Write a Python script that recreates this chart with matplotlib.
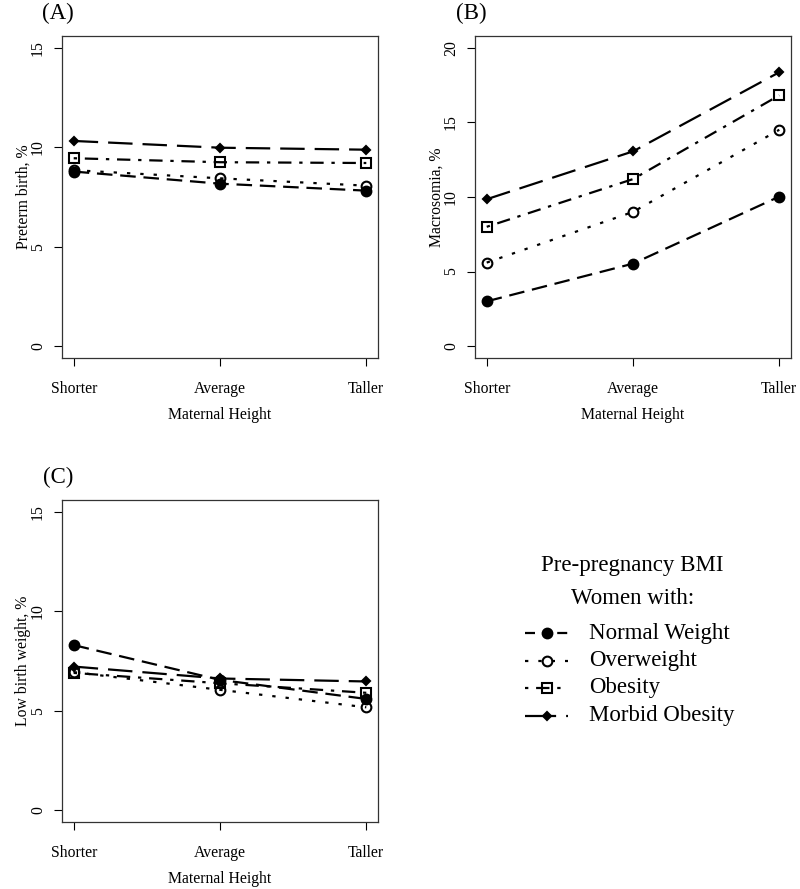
import matplotlib
matplotlib.use("Agg")
import matplotlib.pyplot as plt

plt.rcParams['font.family'] = ['Liberation Serif', 'DejaVu Serif']

heights = ['Shorter', 'Average', 'Taller']
groups = ['Normal Weight', 'Overweight', 'Obesity', 'Morbid Obesity']

# (A) preterm birth, %
preterm_normal = [8.78, 8.17, 7.82]
preterm_over = [8.85, 8.44, 8.07]
preterm_obese = [9.45, 9.25, 9.21]
preterm_morbid = [10.32, 9.98, 9.88]

# (B) macrosomia, %
macro_normal = [3.0, 5.53, 10.03]
macro_over = [5.6, 9.0, 14.51]
macro_obese = [8.0, 11.2, 16.82]
macro_morbid = [9.85, 13.06, 18.37]

# (C) low birth weight, %
lbw_normal = [8.30, 6.55, 5.59]
lbw_over = [6.94, 6.05, 5.17]
lbw_obese = [6.90, 6.38, 5.90]
lbw_morbid = [7.22, 6.62, 6.47]

# line / marker style per group (R lty 2,3,4,5 and pch 19,1,0,18)
styles = [
    dict(dashes=(7, 3.5), marker='o', ms=7, mfc='black'),
    dict(dashes=(1.5, 4.5), marker='o', ms=7, mfc='none'),
    dict(dashes=(1.5, 3.5, 6, 3.5), marker='s', ms=7, mfc='none'),
    dict(dashes=(11, 4.5), marker='D', ms=4.5, mfc='black'),
]
# dash patterns for the legend samples
legend_dashes = [(4.5, 10), (1.5, 4.5), (1.5, 3.5, 6, 3.5), (14, 4.5)]

fig = plt.figure(figsize=(8, 8.89), dpi=100)
W, H = 800, 889


def make_ax(left, top, ymax, ylabel, series, tag):
    ax = fig.add_axes([left / W, 1 - (top + 322) / H, 316 / W, 322 / H])
    x = range(len(heights))
    for vals, st in zip(series, styles):
        ax.plot(x, vals, color='black', lw=1.6, dashes=st['dashes'],
                marker=st['marker'], ms=st['ms'], mfc=st['mfc'],
                mec='black', mew=1.5)
    pad = 0.04
    ax.set_xlim(-0.08, 2 + 0.08)
    ax.set_ylim(-pad * ymax, ymax * (1 + pad))
    ax.set_xticks(list(x))
    ax.set_xticklabels(heights)
    ax.set_yticks(range(0, ymax + 1, 5))
    ax.tick_params(axis='x', length=5.5, width=0.8, pad=11, labelsize=11.3)
    ax.tick_params(axis='y', length=5.5, width=0.8, pad=6, labelsize=11.3)
    plt.setp(ax.get_yticklabels(), rotation=90, va='center')
    for s in ax.spines.values():
        s.set_linewidth(0.9)
        s.set_color('#333333')
    ax.set_xlabel('Maternal Height', fontsize=11.3)
    ax.xaxis.set_label_coords(0.5, -0.152)
    ax.set_ylabel(ylabel, fontsize=11.3)
    ax.yaxis.set_label_coords(-0.097, 0.5)
    fig.text((left - 4) / W, 1 - (top - 23) / H, tag, ha='center',
             va='center', fontsize=16.5)
    return ax


make_ax(62, 36, 15, 'Preterm birth, %',
        [preterm_normal, preterm_over, preterm_obese, preterm_morbid], '(A)')
make_ax(475, 36, 20, 'Macrosomia, %',
        [macro_normal, macro_over, macro_obese, macro_morbid], '(B)')
make_ax(62, 500, 15, 'Low birth weight, %',
        [lbw_normal, lbw_over, lbw_obese, lbw_morbid], '(C)')

# legend, drawn on an overlay in pixel coordinates
lg = fig.add_axes([0, 0, 1, 1])
lg.set_xlim(0, W)
lg.set_ylim(H, 0)
lg.axis('off')
lg.text(632, 566, 'Pre-pregnancy BMI', ha='center', va='center', fontsize=16.5)
lg.text(633, 598, 'Women with:', ha='center', va='center', fontsize=16.5)
row_y = [633, 660.5, 688, 716]
for name, st, dd, yy in zip(groups, styles, legend_dashes, row_y):
    lg.plot([525, 568], [yy, yy], color='black', lw=1.6, dashes=dd)
    lg.plot([547], [yy], color='black', marker=st['marker'], ms=st['ms'],
            mfc=st['mfc'], mec='black', mew=1.5)
    lg.text(589, yy, name, ha='left', va='center', fontsize=16.5)

fig.savefig('out.png', dpi=100)
